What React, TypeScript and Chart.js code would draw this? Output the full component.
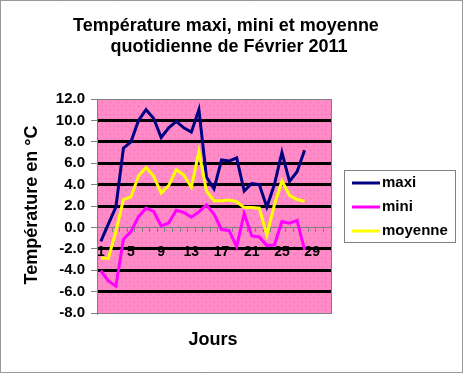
import React, { useEffect, useRef } from 'react';
import { Chart, registerables } from 'chart.js';

Chart.register(...registerables);

const TITLE_LINES = ['Température maxi, mini et moyenne', 'quotidienne de Février 2011'];
const Y_TITLE = 'Température en °C';
const X_TITLE = 'Jours';

const DAYS = ['1', '2', '3', '4', '5', '6', '7', '8', '9', '10', '11', '12', '13', '14', '15', '16',
  '17', '18', '19', '20', '21', '22', '23', '24', '25', '26', '27', '28', '29', '30', '31'];
const SHOWN_DAY_LABELS = ['1', '5', '9', '13', '17', '21', '25', '29'];

const SERIES_NAMES = ['maxi', 'mini', 'moyenne'];
const SERIES_COLORS = ['#000080', '#FF00FF', '#FFFF00'];

const MAXI = [-1.3, 0.3, 1.9, 7.4, 8.0, 10.0, 11.0, 10.2, 8.4, 9.3, 9.9, 9.3, 8.9, 11.0,
  4.7, 3.6, 6.3, 6.2, 6.5, 3.4, 4.1, 4.0, 1.9, 4.0, 7.0, 4.3, 5.2, 7.2];
const MINI = [-4.05, -5.0, -5.5, -1.1, -0.4, 1.0, 1.8, 1.5, 0.15, 0.4, 1.6, 1.4, 0.95, 1.45,
  2.1, 1.25, -0.2, -0.3, -1.8, 1.3, -0.8, -0.9, -1.7, -1.65, 0.55, 0.4, 0.65, -2.1];
const MOYENNE = [-2.85, -2.9, -0.4, 2.6, 2.85, 4.8, 5.6, 4.8, 3.2, 3.9, 5.4, 4.9, 3.75, 7.1,
  3.4, 2.5, 2.5, 2.55, 2.4, 1.85, 1.85, 1.8, -0.7, 2.1, 4.35, 3.0, 2.6, 2.45];

const Y_MIN = -8;
const Y_MAX = 12;
const Y_STEP = 2;

const FONT = 'Arial, "Liberation Sans", sans-serif';

function makePattern(): CanvasPattern | string {
  const c = document.createElement('canvas');
  c.width = 8;
  c.height = 8;
  const g = c.getContext('2d');
  if (!g) return '#FF8AC8';
  g.fillStyle = '#FF8AC8';
  g.fillRect(0, 0, 8, 8);
  g.fillStyle = '#E8609E';
  g.fillRect(2, 2, 1, 1);
  g.fillRect(6, 6, 1, 1);
  return g.createPattern(c, 'repeat') || '#FF8AC8';
}

export default function App() {
  const ref = useRef<HTMLCanvasElement | null>(null);

  useEffect(() => {
    const canvas = ref.current;
    if (!canvas) return;
    const pattern = makePattern();

    const decor = {
      id: 'decor',
      beforeDraw(chart: any) {
        const { ctx, chartArea: a } = chart;
        ctx.save();
        ctx.fillStyle = '#FFFFFF';
        ctx.fillRect(0, 0, chart.width, chart.height);
        ctx.fillStyle = pattern;
        ctx.fillRect(a.left, a.top, a.right - a.left, a.bottom - a.top);
        ctx.restore();
      },
      afterDraw(chart: any) {
        const { ctx, chartArea: a } = chart;
        ctx.save();
        ctx.strokeStyle = '#808080';
        ctx.lineWidth = 1;
        ctx.strokeRect(Math.round(a.left) + 0.5, Math.round(a.top) + 0.5,
          Math.round(a.right - a.left), Math.round(a.bottom - a.top));

        ctx.fillStyle = '#000';
        ctx.font = `bold 18px ${FONT}`;
        ctx.textAlign = 'center';
        ctx.textBaseline = 'middle';
        ctx.fillText(TITLE_LINES[0], 226, 26);
        ctx.fillText(TITLE_LINES[1], 229, 47);
        ctx.fillText(X_TITLE, 213, 340);
        ctx.save();
        ctx.translate(32, 205);
        ctx.rotate(-Math.PI / 2);
        ctx.fillText(Y_TITLE, 0, 0);
        ctx.restore();

        ctx.strokeStyle = '#808080';
        ctx.lineWidth = 1;
        ctx.strokeRect(344.5, 170.5, 111, 72);
        ctx.font = `bold 15px ${FONT}`;
        ctx.textAlign = 'left';
        chart.data.datasets.forEach((ds: any, i: number) => {
          const y = 183 + i * 24;
          ctx.strokeStyle = ds.borderColor;
          ctx.lineWidth = 3;
          ctx.beginPath();
          ctx.moveTo(352, y);
          ctx.lineTo(380, y);
          ctx.stroke();
          ctx.fillStyle = '#000';
          ctx.fillText(ds.label, 382, y);
        });

        ctx.strokeStyle = '#333';
        ctx.lineWidth = 1;
        ctx.setLineDash([1, 1]);
        ctx.strokeRect(0.5, 0.5, 462, 372);
        ctx.restore();
      },
    };

    const series = [MAXI, MINI, MOYENNE];
    const chart = new Chart(canvas, {
      type: 'line',
      data: {
        labels: DAYS,
        datasets: series.map((d, i) => ({
          label: SERIES_NAMES[i],
          data: d,
          borderColor: SERIES_COLORS[i],
          backgroundColor: SERIES_COLORS[i],
          borderWidth: 3,
          pointRadius: 0,
          tension: 0,
          fill: false,
          order: 3 - i,
        })),
      },
      options: {
        animation: false,
        responsive: false,
        maintainAspectRatio: false,
        layout: { padding: { left: 0, top: 99, right: 133, bottom: 62 } },
        plugins: {
          legend: { display: false },
          title: { display: false },
          tooltip: { enabled: false },
        },
        scales: {
          x: {
            type: 'category',
            position: { y: 0 } as any,
            offset: true,
            grid: {
              offset: true,
              drawOnChartArea: false,
              drawTicks: true,
              tickLength: 4,
              tickColor: '#808080',
              tickWidth: 1,
            },
            border: { color: '#808080', width: 1 },
            ticks: {
              autoSkip: false,
              maxRotation: 0,
              minRotation: 0,
              padding: 12,
              color: '#000',
              font: { family: FONT, size: 14, weight: 'bold' },
              callback: (_v: any, i: number) => (SHOWN_DAY_LABELS.includes(DAYS[i]) ? DAYS[i] : ''),
            },
          },
          y: {
            min: Y_MIN,
            max: Y_MAX,
            ticks: {
              stepSize: Y_STEP,
              padding: 6,
              color: '#000',
              font: { family: FONT, size: 15, weight: 'bold' },
              callback: (v: any) => Number(v).toFixed(1),
            },
            grid: {
              color: (c: any) => {
                const v = c.tick ? c.tick.value : null;
                if (v === 0 || v === Y_MAX || v === Y_MIN) return 'rgba(0,0,0,0)';
                return '#000';
              },
              lineWidth: 3,
              drawTicks: true,
              tickLength: 6,
              tickColor: '#808080',
              tickWidth: 1,
            },
            border: { color: '#808080', width: 1 },
            afterFit: (s: any) => {
              s.width = 97;
            },
          },
        },
      },
      plugins: [decor],
    } as any);

    return () => chart.destroy();
  }, []);

  return (
    <div style={{ position: 'fixed', left: 0, top: 0, width: 464, height: 375, background: '#fff' }}>
      <canvas ref={ref} width={464} height={375} style={{ display: 'block', width: 464, height: 375 }} />
    </div>
  );
}
